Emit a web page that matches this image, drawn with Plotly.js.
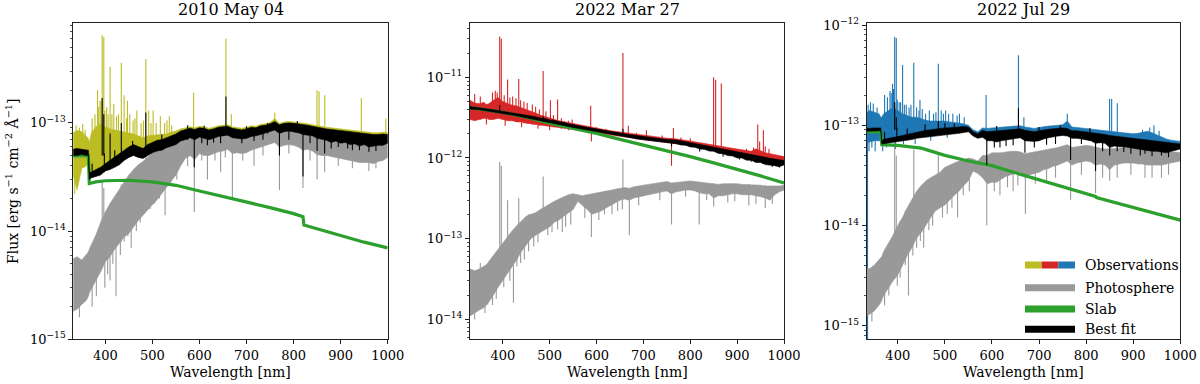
<!DOCTYPE html>
<html><head><meta charset="utf-8">
<script src="https://cdn.plot.ly/plotly-3.0.1.min.js"></script>
<style>html,body{margin:0;padding:0;background:#fff}#chart{width:1200px;height:384px}</style>
</head><body><div id="chart"></div>
<script>
const FONT = 'DejaVu Serif';
const titles = ['2010 May 04', '2022 Mar 27', '2022 Jul 29'];
const obsColors = ['#bcbd22', '#d62728', '#1f77b4'];
const xTicks = [400, 500, 600, 700, 800, 900, 1000];

// wavelength grid (nm) for the spectral envelopes (min / max of the dense spectra)
const wl = [330,340,350,360,364,366,
  370,380,390,400,410,420,430,440,450,460,
  470,480,490,500,510,520,530,540,550,560,
  570,580,590,600,610,620,630,640,650,660,
  670,680,690,700,710,720,730,740,750,760,
  770,780,790,800,810,820,830,840,850,860,
  870,880,890,900,910,920,930,940,950,960,
  970,980,990,1000];

// ---------- Panel 1: 2010 May 04 ----------
// observations, units 1e-14
const obsLo1 = [3.5,2.4,3.8,4.0,4.5,3.3,
  3.4,3.5,3.6,4.0,4.2,4.4,4.6,5.0,5.3,5.5,
  5.5,5.4,5.6,5.9,6.0,6.2,6.3,6.5,6.7,7.2,
  7.4,7.6,7.3,7.7,7.5,7.3,7.5,7.8,7.9,8.0,
  7.6,7.5,7.4,7.5,7.8,7.9,8.1,8.3,8.6,8.9,
  8.3,8.6,8.7,8.6,8.4,8.1,8.0,7.9,7.5,7.3,
  7.2,7.0,7.1,6.8,6.9,6.6,6.7,6.4,6.6,6.3,
  6.4,6.5,6.5,6.8];
const obsHi1 = [8.0,8.5,8.3,7.6,7.2,6.5,
  8.0,9.2,9.8,9.2,8.8,8.6,8.4,8.3,8.0,7.9,
  7.6,7.3,7.6,7.7,7.8,7.8,7.9,8.2,8.4,8.8,
  9.0,9.2,9.0,9.3,9.2,8.9,9.1,9.4,9.5,9.6,
  9.2,9.0,8.9,9.1,9.4,9.3,9.7,9.8,10.1,11.0,
  9.9,10.2,10.3,10.2,10.1,9.9,9.8,9.6,9.4,9.2,
  9.1,9.0,8.9,8.8,8.6,8.5,8.4,8.3,8.2,8.2,
  8.1,8.1,8.2,8.1];
// photosphere, units 1e-15
const phoLo1 = [1.8,1.9,2.1,2.3,2.5,2.7,
  3.0,3.5,4.2,5.2,5.8,6.8,7.8,8.8,9.5,11,
  12.5,14,15.5,17.5,19.5,22,25,29,33,40,
  47,50,46,52,50,50,52,54,55,57,
  52,53,52,53,56,58,60,62,64,66,
  60,62,63,62,60,56,57,55,51,50,
  50,49,48,47,46,45,44,43,43,43,
  42,44,45,48];
const phoHi1 = [5.5,5.8,5.4,6.2,6.4,6.8,
  7.4,9.2,12,15,18,21,24,28,33,37,
  41,44,48,53,56,58,61,63,67,71,
  73,75,73,77,75,75,77,79,79,80,
  77,76,75,77,79,81,83,84,86,88,
  84,85,86,85,84,81,80,79,77,75,
  75,74,73,72,71,70,69,68,67,67,
  67,68,69,69];
// best fit, units 1e-14
const fitLo1 = [5.0,5.0,5.1,5.0,5.0,3.0,
  3.1,3.2,3.3,3.6,3.7,3.9,4.1,4.5,4.8,5.0,
  4.8,4.7,5.0,5.3,5.5,5.6,5.9,6.1,6.3,6.8,
  7.0,7.3,7.0,7.4,7.2,7.0,7.2,7.5,7.6,7.7,
  7.3,7.2,7.1,7.2,7.5,7.6,7.8,8.0,8.3,8.6,
  8.0,8.3,8.4,8.3,8.1,7.8,7.7,7.6,7.2,7.0,
  6.9,6.6,6.8,6.5,6.6,6.3,6.4,6.1,6.3,6.0,
  6.1,6.2,6.2,6.5];
const fitHi1 = [5.7,5.8,5.7,5.6,5.6,3.5,
  3.5,3.7,3.9,4.2,4.5,4.8,5.2,5.6,6.0,6.3,
  6.0,5.8,6.3,6.6,6.9,7.0,7.3,7.6,7.9,8.4,
  8.7,8.9,8.7,9.0,8.9,8.6,8.8,9.1,9.2,9.3,
  8.9,8.7,8.6,8.8,9.1,9.0,9.4,9.5,9.8,10.3,
  9.6,9.9,10.0,9.9,9.8,9.6,9.5,9.3,9.1,8.9,
  8.8,8.7,8.6,8.5,8.3,8.2,8.1,8.0,7.9,7.9,
  7.8,7.8,7.9,7.8];
// slab model, units 1e-14
const slabWl1 = [330,350,364,366,380,400,450,500,550,600,650,700,750,800,820,822,850,900,950,1000];
const slab1 = [4.95,4.98,5.0,2.75,2.85,2.92,2.95,2.85,2.65,2.35,2.1,1.87,1.65,1.45,1.36,1.14,1.05,0.9,0.79,0.7];
// narrow emission (up) and absorption (down) features
const obsSegWl1 = [383.5,388.9,393.4,396.8,403.0,410.2,418.0,434.0,440.0,447.1,467.0,486.1,492.2,501.6,516.9,536.0,587.6,656.3,667.8,760.0,849.8,854.2,866.2,944.0,996.0,
  338,345,352,357,372,378,386,391,399,406,414,424,428,445,452,459,463,476,481,497,508,526,531,541,335];
const obsSegLo1 = [6,6,6,6,6,6,6,6,6,6,6.5,6.5,6.5,6.5,7,7,8,8.5,8.5,9,9,9,9,8,8,
  4,4,4,4,4,4,4.5,4.5,5,5,5,5,5,5.5,5.5,5.5,5.5,6,6,6,6.5,7,7,7,2.2];
const obsSegHi1 = [20,16,65,62,14,33,15,36,18,16,13,39,13,13,11.5,11.5,19,60,12,12.5,20,19.5,18,17,11,
  9.5,9,9.8,8.6,11,12,14,16,13,12,12,11.5,12,11,12,10.5,11,10,10.5,10,10,10,10.5,9.5,5];
const phoSegWl1 = [393.4,396.8,434.0,486.1,422.7,589.0,670.0,770.0,820.0,866.0,410.0,455.0,527.0,617.0,645.0,716.0,850.0,925.0,960.0,
  345,372,381,399,405,416,432,440,448,466,474,495,505,515,539,552,575,605,633,655,692,735,790,835,895,975];
const phoSegLo1 = [5,5,8,20,2.5,15,20,24,25,35,3.5,7,14,30,35,40,30,38,36,
  1.6,2,2.5,3,4,5,6,8,9,10,12,16,18,20,28,30,40,45,45,48,45,50,52,45,40,38];
const phoSegHi1 = [29,25,27,55,12,55,60,70,65,60,12,25,45,60,65,65,60,60,55,
  4,6,8,12,14,18,20,25,30,35,38,45,48,52,58,62,68,70,72,74,70,75,78,74,68,65];
const fitSegWl1 = [393.4,396.8,410.2,434.0,486.1,656.3,589.0,770.0,820.0,850.0,866.0,617.0,645.0,716.0,880.0,925.0,960.0,
  605,630,690,735,790,835,895,915,940,975,372,398,420,458,520,575,610,700,745,808];
const fitSegLo1 = [5,5,4,4.5,5.5,8.5,3.9,5.0,3.2,5.5,5.2,6.2,6.5,6.8,5.8,5.6,5.4,
  6.5,6.6,6.5,7,7,6.5,6,5.8,5.6,5.5,3.2,3.5,3.9,5,5.6,7,7.2,7.2,8,8.2];
const fitSegHi1 = [17,12,8,10,12.5,17.5,7.5,9,8.5,8.5,8.5,8,8.5,8.5,8,7.5,7.2,
  8.5,8.5,8.3,9,9.5,9,8.2,8,7.8,7.6,4.2,5.2,5.6,6.8,7.8,9.5,9.4,9.3,10,10.4];

// ---------- Panel 2: 2022 Mar 27 ----------
// observations, units 1e-13
const obsLo2 = [30,29,30,31,31,31,
  30,30,31,30,29,29,28,28,27,26.5,
  26,25.5,25,24.5,24,23.5,23,22.8,22.6,22.2,
  21.8,21.4,20.8,20.5,20,19.6,19.2,18.8,18.5,18.2,
  17.8,17.5,17.2,16.9,16.6,16.3,16,15.7,15.5,15.3,
  15,14.8,14.5,14.1,13.7,13.3,13,12.7,12.3,12,
  11.7,11.4,11.1,10.8,10.5,10.2,9.9,9.6,9.4,9.2,
  9.0,8.8,8.6,8.8];
const obsHi2 = [52,48,47,49,46,46,
  47,52,56,50,47,45,44,42,40,38,
  36,34,32.5,31,30,29,28.2,27.5,26.8,25.8,
  25.2,24.6,24,23.4,22.8,22.3,21.8,21.4,21,20.6,
  20.2,19.8,19.4,19,18.7,18.4,18.1,17.8,17.6,17.5,
  17.3,17,16.6,16.2,15.8,15.4,15.1,14.8,14.4,14.1,
  13.8,13.5,13.2,12.9,12.6,12.3,12.1,13.0,12.3,11.6,
  11.3,11.0,10.8,10.4];
// photosphere, units 1e-13
const phoLo2 = [0.11,0.12,0.13,0.14,0.15,0.15,
  0.16,0.2,0.25,0.3,0.38,0.45,0.55,0.7,0.85,1.0,
  1.1,1.2,1.3,1.4,1.6,1.7,1.9,2.1,2.3,2.9,
  2.6,2.3,2.0,2.1,2.2,2.4,2.6,2.8,3.0,3.1,
  3.0,3.2,3.3,3.4,3.5,3.6,3.7,3.8,3.9,3.6,
  3.8,3.9,4.0,4.0,3.9,3.7,3.6,3.6,3.2,3.4,
  3.4,3.5,3.6,3.6,3.5,3.5,3.5,3.4,3.3,3.2,
  3.0,3.5,3.8,4.0];
const phoHi2 = [0.42,0.4,0.42,0.46,0.47,0.48,
  0.52,0.62,0.76,0.9,1.05,1.25,1.45,1.65,1.9,2.0,
  2.1,2.3,2.5,2.7,2.9,3.1,3.3,3.5,3.6,3.5,
  3.4,3.5,3.6,3.7,3.8,3.9,4.0,4.1,4.2,4.3,
  4.2,4.4,4.5,4.6,4.7,4.8,4.9,5.0,5.1,4.9,
  5.0,5.1,5.2,5.2,5.1,5.0,4.9,4.9,4.8,4.7,
  4.8,4.8,4.9,4.8,4.7,4.7,4.6,4.6,4.6,4.5,
  4.5,4.5,4.5,4.6];
// best fit, units 1e-13
const fitLo2 = [40.5,40,39.5,38.8,38.5,38.3,
  38,37.2,36.4,35.6,34.8,34,33.2,32.4,31.6,30.8,
  30,29.2,28.4,27.6,26.8,26,25.3,24.6,23.9,23.3,
  22.7,22.1,21.5,20.9,20.4,19.9,19.4,19,18.6,18.2,
  17.8,17.5,17.1,16.8,16.5,16.2,15.9,15.6,15.4,15.2,
  15,14.5,14.4,13.7,13.6,12.9,12.8,12.2,12.1,11.4,
  11.3,10.7,10.6,10.0,10.0,9.4,9.4,8.8,8.8,8.3,
  8.2,8.0,7.8,8.2];
const fitHi2 = [43.5,42.5,41.8,41.2,41,40.8,
  40.5,39.6,38.8,38,37.2,36.4,35.6,34.8,34,33.2,
  32.4,31.2,30.9,29.6,29.4,28.1,27.8,26.6,26.1,25.1,
  24.6,24,23.4,22.8,22.2,21.7,21.2,20.7,20.3,19.9,
  19.5,19.1,18.7,18.4,18.1,17.8,17.5,17.2,17,16.9,
  16.7,16.3,15.9,15.5,15.1,14.7,14.3,14,13.6,13.3,
  13,12.6,12.3,12,11.7,11.4,11.1,10.8,10.5,10.2,
  9.9,9.7,9.5,9.3];
// slab model, units 1e-13
const slabWl2 = [330,400,450,500,550,600,650,700,750,800,850,900,950,1000];
const slab2 = [42,36.8,32,26.9,23.2,20.2,17.0,14.5,12.3,10.4,8.7,7.3,6.0,4.9];
const obsSegWl2 = [393.4,396.8,410.2,434.0,486.1,501.6,516.9,587.6,656.3,667.8,706.5,849.8,854.2,866.2,944.0,956.0,760.0,764.0,589.0,
  340,352,378,384,388,403,415,421,428,438,445,452,463,470,478,492,508,525,540,548,600,620,685,740,780,800,920,935,948,960,968,
  365,405,440,475,500];
const obsSegLo2 = [40,40,38,35,31,28,26,24,20,19,18,13,13,13,11.5,11,8,15,16,
  32,30,30,31,32,30,29,29,28,28,27,27,26,26,25,25,24,23,22,22.5,20.5,19.6,17,15.6,14.7,14,10,9.9,9.5,9.2,9,
  26,25,24,23,22];
const obsSegHi2 = [320,300,94,95,120,52,53,44.5,200,25,22,100,93,84,26,22,16,23.5,24,
  62,58,65,68,65,60,56,58,55,52,50,48,46,43,40,38,34,31,29,30,24,23,20.5,19,18,17.5,13,13.5,16,14,13,
  31,30,28,26,25];
const phoSegWl2 = [393.4,396.8,410.2,434.0,486.1,656.3,422.7,589.0,670.0,760.0,819.0,455.0,527.0,617.0,645.0,850.0,925.0,960.0,
  340,362,378,386,402,415,430,438,446,466,475,496,505,517,534,545,575,605,633,655,690,735,790,835,880,895,940,975,352];
const phoSegLo2 = [0.5,0.5,0.6,0.8,1.6,3.2,0.16,1.05,1.1,1.5,1.5,0.7,1.2,2.0,2.2,2.5,2.6,2.4,
  0.1,0.12,0.15,0.18,0.25,0.3,0.45,0.5,0.55,0.8,0.9,1.1,1.2,1.3,1.4,1.5,1.8,1.7,2.0,2.3,2.6,3.0,3.3,3.0,2.8,2.9,2.7,2.7,0.2];
const phoSegHi2 = [9.0,8.0,3.0,3.2,5.9,9.6,0.8,3.0,3.5,4.0,4.0,2.0,3.0,3.9,4.2,4.9,4.8,4.6,
  0.3,0.4,0.5,0.6,0.8,0.9,1.2,1.5,1.6,1.9,2.0,2.4,2.6,2.8,3.0,3.2,3.4,3.6,3.9,4.0,4.4,4.8,5.0,4.8,4.7,4.8,4.5,4.4,0.5];
const fitSegWl2 = [393.4,486.1,656.3,760.0,820.0,870,905,930,955,975,990];
const fitSegLo2 = [38,30,19,14,12,10.4,9.6,9.0,8.4,7.8,7.6];
const fitSegHi2 = [45,33,23,16,14,12.6,11.6,11.0,10.4,9.9,9.5];

// ---------- Panel 3: 2022 Jul 29 ----------
// observations, units 1e-14
const obsLo3 = [6.6,6.8,7.0,7.0,7.0,6.5,
  6.8,7.0,7.2,7.5,7.6,7.6,7.7,7.8,8.0,8.0,
  8.1,8.2,8.3,8.4,8.5,8.5,8.6,8.7,8.8,7.9,
  7.5,7.7,7.2,7.2,7.0,7.2,7.4,7.5,7.6,7.7,
  7.2,7.2,7.1,7.2,7.5,7.7,7.9,8.0,8.1,8.0,
  7.6,7.6,7.5,7.4,7.2,6.8,6.9,6.8,6.2,6.4,
  6.3,6.3,6.2,6.1,6.0,5.9,5.8,5.7,5.7,5.6,
  5.5,5.7,5.8,6.0];
const obsHi3 = [13,14,13.5,13,12,12,
  13,14,15,14,13,12.5,12,12,11.5,11.2,
  11,11,11,11,10.8,10.7,10.5,10.3,10.0,9.0,
  8.6,9.4,9.3,9.4,9.5,9.6,9.7,9.8,9.8,9.9,
  9.6,9.4,9.3,9.5,9.7,9.8,9.9,10.0,10.1,11.0,
  9.6,9.5,9.4,9.3,9.2,9.0,8.9,8.8,8.7,8.6,
  8.5,8.4,8.3,8.2,8.3,8.5,8.7,8.4,8.0,7.6,
  7.3,7.1,7.0,6.9];
// photosphere, units 1e-15
const phoLo3 = [1.2,1.3,1.4,1.6,1.7,1.8,
  2.0,2.4,2.8,3.2,4.0,5.0,6.0,7.5,8.5,10,
  12,14,15,16,18,20,22,25,28,35,
  33,30,26,27,27,29,31,32,33,34,
  30,32,33,34,36,37,39,40,42,44,
  40,42,43,44,43,40,41,40,36,40,
  41,42,42,42,41,41,40,40,40,40,
  41,42,43,44];
const phoHi3 = [3.7,3.7,4.0,4.5,4.7,4.9,
  5.5,6.6,8.0,10,12,15,18,22,25,28,
  30,32,34,38,40,42,44,45,47,46,
  44,50,50,53,53,53,54,55,55,54,
  52,53,54,55,56,58,59,60,62,64,
  60,61,62,63,62,60,59,58,58,58,
  59,60,60,60,60,60,59,58,56,55,
  54,54,54,53];
// best fit, units 1e-14
const fitLo3 = [8.7,8.7,8.8,8.8,8.8,6.5,
  6.6,6.7,6.8,6.9,7.0,7.1,7.2,7.4,7.6,7.7,
  7.8,7.9,8.0,8.1,8.1,8.2,8.3,8.4,8.6,7.8,
  7.4,7.6,7.0,7.0,6.8,7.0,7.2,7.3,7.4,7.5,
  7.0,7.0,6.9,7.0,7.3,7.5,7.7,7.8,7.9,7.8,
  7.4,7.4,7.3,7.2,7.0,6.6,6.7,6.6,6.0,6.2,
  6.1,6.1,6.0,5.9,5.8,5.7,5.6,5.5,5.5,5.4,
  5.3,5.5,5.6,5.8];
const fitHi3 = [9.4,9.3,9.4,9.5,9.4,7.0,
  7.2,7.4,7.5,7.7,7.9,8.1,8.3,8.5,8.7,8.9,
  9.0,9.2,9.3,9.4,9.4,9.5,9.6,9.7,9.6,8.6,
  8.2,8.9,8.6,8.7,8.8,8.9,9.0,9.1,9.1,9.2,
  8.9,8.7,8.6,8.8,9.0,9.1,9.2,9.3,9.4,9.3,
  8.8,8.8,8.7,8.6,8.5,8.3,8.2,8.1,7.9,7.8,
  7.7,7.6,7.5,7.4,7.3,7.2,7.1,7.0,6.9,6.8,
  6.7,6.6,6.6,6.5];
// slab model, units 1e-14
const slabWl3 = [330,364,366,400,450,500,550,600,650,700,750,800,820,822,850,900,950,1000];
const slab3 = [8.6,8.6,6.4,6.3,5.9,5.0,4.4,3.95,3.35,2.85,2.45,2.1,1.95,1.9,1.75,1.5,1.3,1.13];
const obsSegWl3 = [335.8,383.5,388.9,393.4,396.8,403.0,410.2,418.0,434.0,447.1,467.0,486.1,492.2,501.6,516.9,587.6,656.3,667.8,760.0,849.8,854.2,866.2,944.0,
  337,342,348,356,372,378,386,391,399,406,414,424,428,440,445,452,459,476,481,497,508,526,531,541,920,935,955,
  339,345,352,368,376,395,412,437,470,505];
const obsSegLo3 = [0.05,9,9,9,9,9,9,9,9,9,9,9,9,9,9,9,9,9,9,8,8,8,7,
  8,8,8,8,8,8,8,8,8,8,8,8,8,8,8.5,8.5,8.5,8.5,8.5,8.5,9,9,9,9,7,7,6.5,
  5.5,6,5.5,5.5,6,5.8,6.5,6.5,7,7.5];
const obsSegHi3 = [9,22,26,76,74,17,40,16,42,18,14,41,14,14,13,20,50,12,13,18.3,18.3,16.6,10,
  16,17,16.5,15,20,19,21,23,18,17,16,15,16,15,14,14.5,13,13,13.5,13,13,12.5,13,12,9,9.5,8.8,
  8,8,8,7.5,8,8,8,8.5,9,9];
const phoSegWl3 = [393.4,396.8,434.0,486.1,422.7,589.0,671.0,767.0,820.0,866.0,455.0,527.0,617.0,645.0,716.0,850.0,925.0,960.0,
  345,372,381,399,405,416,432,440,448,466,474,495,505,515,539,552,605,633,655,692,735,790,835,895,940,975];
const phoSegLo3 = [4,4,10,15,2,10,13,18,21,30,6,12,20,22,28,28,30,30,
  1.1,1.6,2,2.5,3,4,5,6,7,9,10,12,13,15,20,22,22,24,25,26,30,32,30,32,30,32];
const phoSegHi3 = [70,50,57,53,10,40,45,55,55,50,20,35,45,48,50,55,55,52,
  3,5,6,9,11,14,17,20,24,28,30,34,36,40,45,47,50,53,55,54,58,62,59,60,58,55];
const fitSegWl3 = [393.4,396.8,486.1,656.3,589.0,670.0,767.0,820.0,850.0,866.0,617.0,645.0,716.0,880.0,925.0,960.0,
  605,630,690,735,790,835,895,915,940,975,372,398,420,458,500,520,610,700,745,808];
const fitSegLo3 = [9,9,9,9,4,5.3,4.5,3.5,5,5.5,6.0,6.3,6.4,5.4,5.2,5.0,
  6,6.2,6,6.5,6.5,5.5,5.2,5,4.9,4.8,6.8,7,7.2,7.8,8,8.2,7,7,7.8,7];
const fitSegHi3 = [17,12,11,14.8,8,8,8,7.5,7.5,7.5,8,8.5,8.5,7.5,7,6.8,
  8.2,8.5,8.2,9,8.6,8,7.4,7.2,7,6.6,8.5,9.5,9.3,10.2,10.5,10.4,9.8,9.6,10,9.4];

// legend entries
const legendLabels = ['Observations', 'Photosphere', 'Slab', 'Best fit'];
const legendColors = ['#999999', '#2ca02c', '#000000'];

// ---------- build ----------
const W = 1200, H = 384;
const px = v => v / W, py = v => 1 - v / H;
const scale = (a, u) => a.map(v => v * u);
function segs(w, lo, hi, u) {
  const x = [], y = [];
  w.forEach((v, i) => { x.push(v, v, null); y.push(lo[i] * u, hi[i] * u, null); });
  return { x, y };
}
function band(lo, hi, u) {
  return { x: wl.concat(wl.slice().reverse()), y: scale(hi, u).concat(scale(lo, u).reverse()) };
}
const traces = [];
function addPanel(k, color, oLo, oHi, obsU, oS, pLo, pHi, phoU, pS, slabWl, slab, slabU, fLo, fHi, fitU, fS) {
  const xa = k === 1 ? 'x' : 'x' + k, ya = k === 1 ? 'y' : 'y' + k;
  const common = { xaxis: xa, yaxis: ya, mode: 'lines', hoverinfo: 'skip', showlegend: false };
  const bo = band(oLo, oHi, obsU);
  traces.push(Object.assign({ x: bo.x, y: bo.y, fill: 'toself', fillcolor: color, line: { color: color, width: 0.6 } }, common));
  const so = segs(oS[0], oS[1], oS[2], obsU);
  traces.push(Object.assign({ x: so.x, y: so.y, line: { color: color, width: 1.1 } }, common));
  const bp = band(pLo, pHi, phoU);
  traces.push(Object.assign({ x: bp.x, y: bp.y, fill: 'toself', fillcolor: '#999999', line: { color: '#999999', width: 0.6 } }, common));
  const sp = segs(pS[0], pS[1], pS[2], phoU);
  traces.push(Object.assign({ x: sp.x, y: sp.y, line: { color: '#999999', width: 1.1 } }, common));
  traces.push(Object.assign({ x: slabWl, y: scale(slab, slabU), line: { color: '#2ca02c', width: 3.2 } }, common));
  const bf = band(fLo, fHi, fitU);
  traces.push(Object.assign({ x: bf.x, y: bf.y, fill: 'toself', fillcolor: '#000000', line: { color: '#000000', width: 0.6 } }, common));
  const sf = segs(fS[0], fS[1], fS[2], fitU);
  traces.push(Object.assign({ x: sf.x, y: sf.y, line: { color: '#000000', width: 1.1 } }, common));
}
addPanel(1, obsColors[0], obsLo1, obsHi1, 1e-14, [obsSegWl1, obsSegLo1, obsSegHi1],
  phoLo1, phoHi1, 1e-15, [phoSegWl1, phoSegLo1, phoSegHi1],
  slabWl1, slab1, 1e-14, fitLo1, fitHi1, 1e-14, [fitSegWl1, fitSegLo1, fitSegHi1]);
addPanel(2, obsColors[1], obsLo2, obsHi2, 1e-13, [obsSegWl2, obsSegLo2, obsSegHi2],
  phoLo2, phoHi2, 1e-13, [phoSegWl2, phoSegLo2, phoSegHi2],
  slabWl2, slab2, 1e-13, fitLo2, fitHi2, 1e-13, [fitSegWl2, fitSegLo2, fitSegHi2]);
addPanel(3, obsColors[2], obsLo3, obsHi3, 1e-14, [obsSegWl3, obsSegLo3, obsSegHi3],
  phoLo3, phoHi3, 1e-15, [phoSegWl3, phoSegLo3, phoSegHi3],
  slabWl3, slab3, 1e-14, fitLo3, fitHi3, 1e-14, [fitSegWl3, fitSegLo3, fitSegHi3]);

const panelPx = [[73.3, 387.7], [470, 784], [866.7, 1180.3]];
const xRanges = [[332, 1000], [330, 1000], [334, 1000]];
const yRanges = [[-15.0, -12.074], [-14.248, -10.323], [-15.136, -11.977]];
const yDecades = [[-15, -14, -13], [-14, -13, -12, -11], [-15, -14, -13, -12]];
const TOP = 22.7, BOT = 339.3;

const layout = {
  width: W, height: H, margin: { l: 0, r: 0, t: 0, b: 0 },
  paper_bgcolor: '#ffffff', plot_bgcolor: '#ffffff', showlegend: false,
  font: { family: FONT, size: 13, color: '#000' },
  annotations: [], shapes: []
};
for (let i = 0; i < 3; i++) {
  const s = i === 0 ? '' : String(i + 1);
  const dec = yDecades[i];
  const minor = [];
  for (let e = Math.floor(yRanges[i][0]); e <= Math.ceil(yRanges[i][1]); e++)
    for (let m = 2; m <= 9; m++) minor.push(m * Math.pow(10, e));
  layout['xaxis' + s] = {
    domain: [px(panelPx[i][0]), px(panelPx[i][1])], anchor: 'y' + s, range: xRanges[i],
    tickmode: 'array', tickvals: xTicks, ticktext: xTicks.map(String),
    ticks: 'outside', ticklen: 4, tickwidth: 1, tickcolor: '#222',
    showline: true, mirror: true, linecolor: '#222', linewidth: 1,
    showgrid: false, zeroline: false, fixedrange: true,
    tickfont: { family: FONT, size: 13, color: '#000' }
  };
  layout['yaxis' + s] = {
    domain: [py(BOT), py(TOP)], anchor: 'x' + s, type: 'log', range: yRanges[i],
    tickmode: 'array', tickvals: dec.map(e => Math.pow(10, e)),
    ticktext: dec.map(e => '10<sup>\u2212' + Math.abs(e) + '</sup>'),
    ticks: 'outside', ticklen: 4, tickwidth: 1, tickcolor: '#222',
    minor: { tickmode: 'array', tickvals: minor, ticks: 'outside', ticklen: 2, tickwidth: 0.8, tickcolor: '#222', showgrid: false },
    showline: true, mirror: true, linecolor: '#222', linewidth: 1,
    showgrid: false, zeroline: false, fixedrange: true,
    tickfont: { family: FONT, size: 13, color: '#000' }
  };
  const cx = (panelPx[i][0] + panelPx[i][1]) / 2;
  layout.annotations.push({ text: titles[i], xref: 'paper', yref: 'paper', x: px(cx), y: py(10),
    xanchor: 'center', yanchor: 'middle', showarrow: false, font: { family: FONT, size: 16, color: '#000' } });
  layout.annotations.push({ text: 'Wavelength [nm]', xref: 'paper', yref: 'paper', x: px(cx), y: py(372),
    xanchor: 'center', yanchor: 'middle', showarrow: false, font: { family: FONT, size: 14, color: '#000' } });
}
layout.annotations.push({ text: 'Flux [erg s<sup>\u22121</sup> cm<sup>\u22122</sup> \u00c5<sup>\u22121</sup>]',
  xref: 'paper', yref: 'paper', x: px(12), y: py(181), textangle: -90,
  xanchor: 'center', yanchor: 'middle', showarrow: false, font: { family: FONT, size: 14, color: '#000' } });

// legend (panel 3, lower right)
const rowsY = [265, 287.7, 309, 329.3];
const swX0 = 1025, swX1 = 1075, swH = 3.5;
const third = (swX1 - swX0) / 3;
obsColors.forEach((c, j) => {
  layout.shapes.push({ type: 'rect', xref: 'paper', yref: 'paper', x0: px(swX0 + j * third), x1: px(swX0 + (j + 1) * third),
    y0: py(rowsY[0] + swH), y1: py(rowsY[0] - swH), fillcolor: c, line: { width: 0 } });
});
legendColors.forEach((c, j) => {
  layout.shapes.push({ type: 'rect', xref: 'paper', yref: 'paper', x0: px(swX0), x1: px(swX1),
    y0: py(rowsY[j + 1] + swH), y1: py(rowsY[j + 1] - swH), fillcolor: c, line: { width: 0 } });
});
legendLabels.forEach((t, j) => {
  layout.annotations.push({ text: t, xref: 'paper', yref: 'paper', x: px(1083), y: py(rowsY[j]),
    xanchor: 'left', yanchor: 'middle', showarrow: false, font: { family: FONT, size: 14, color: '#000' } });
});

Plotly.newPlot('chart', traces, layout, { staticPlot: true, displayModeBar: false });
</script>
</body></html>
